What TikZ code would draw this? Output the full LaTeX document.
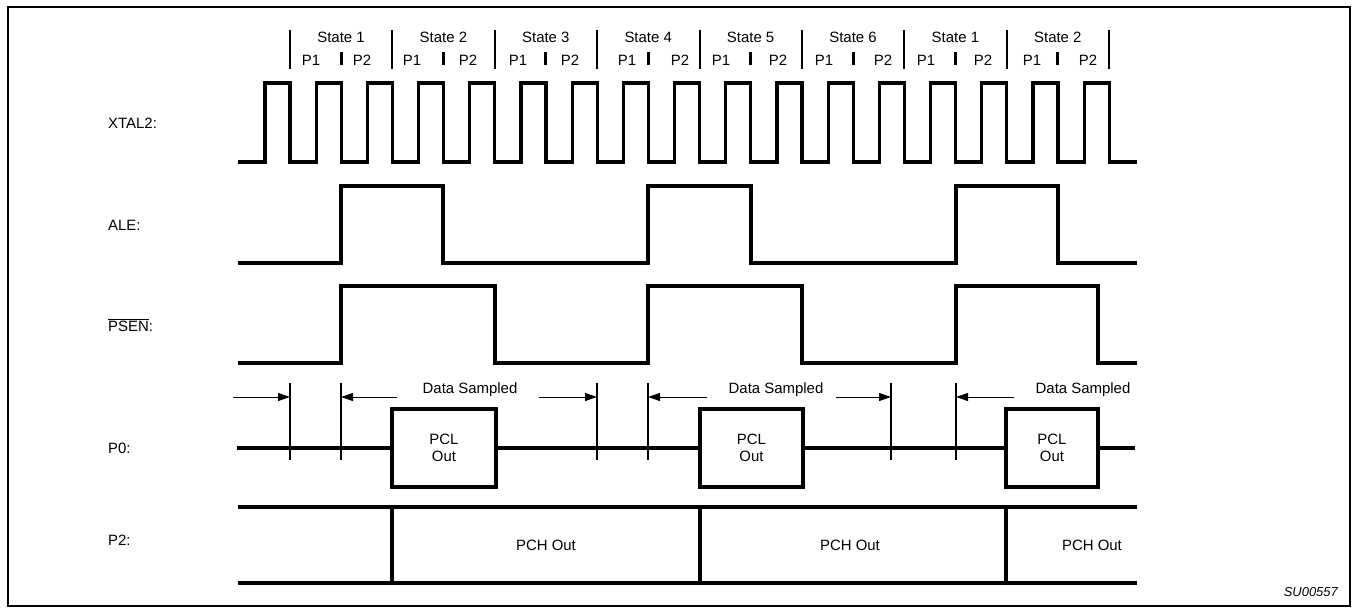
\documentclass[tikz,border=0pt]{standalone}
\usepackage{fontspec}
\setmainfont{Liberation Sans}
\usetikzlibrary{arrows.meta}
\begin{document}
\begin{tikzpicture}[x=1bp,y=-1bp,
  sig/.style={line width=3.2bp, line join=miter},
  tick/.style={line width=2bp},
  subtick/.style={line width=3bp},
  dimarrow/.style={line width=0.9bp, -{Triangle[length=12bp,width=8bp]}},
  lbl/.style={font=\fontsize{15}{17}\selectfont, inner sep=0pt},
  box/.style={draw, line width=3.2bp, minimum height=78bp, inner sep=0pt, outer sep=0pt, align=center, font=\fontsize{15}{17}\selectfont},
]
\useasboundingbox (0,0) rectangle (1354,608);
\draw[line width=1.5bp] (8,7) rectangle (1350,606);

% state header
\foreach \j in {0,...,8} \draw[tick] ({290+102.4*\j},30) -- ({290+102.4*\j},69);
\foreach \j in {0,...,7} \draw[subtick] ({341+102.4*\j},52) -- ({341+102.4*\j},65);
\foreach \n [count=\i from 0] in {1,2,3,4,5,6,1,2}
  \node[lbl] (st\i) at ({341+102.4*\i},37) {State \n};
\foreach \a/\b [count=\i from 0] in {311/362,412/468,518/570,627/680,721/778,824/883,926/983,1032/1088}
  {\node[lbl] (pa\i) at (\a,60) {P1}; \node[lbl] (pb\i) at (\b,60) {P2};}

% signal names
\node[lbl, anchor=west] (lxtal) at (108,123) {XTAL2:};
\node[lbl, anchor=west] (lale) at (108,225) {ALE:};
\node[lbl, anchor=west] (lpsen) at (108,325) {$\overline{\hbox{PSEN}}$:};
\node[lbl, anchor=west] (lp0) at (108,448) {P0:};
\node[lbl, anchor=west] (lp2) at (108,540) {P2:};

% XTAL2
\draw[sig] (238,162) \foreach \k in {0,...,16} { -- ({265+51.2*\k},162) -- ({265+51.2*\k},83) -- ({290+51.2*\k},83) -- ({290+51.2*\k},162) } -- (1137,162);

% ALE
\draw[sig] (238,263) -- (341,263) -- (341,186) -- (443,186) -- (443,263) -- (648,263) -- (648,186) -- (751,186) -- (751,263) -- (956,263) -- (956,186) -- (1058,186) -- (1058,263) -- (1137,263);

% PSEN
\draw[sig] (238,363) -- (341,363) -- (341,286) -- (495,286) -- (495,363) -- (648,363) -- (648,286) -- (802,286) -- (802,363) -- (956,363) -- (956,286) -- (1098,286) -- (1098,363) -- (1137,363);

% P0
\node[box, minimum width=104bp] (b1) at (444,448) {PCL\\Out};
\node[box, minimum width=103bp] (b2) at (751.5,448) {PCL\\Out};
\node[box, minimum width=92bp] (b3) at (1052,448) {PCL\\Out};
\coordinate (p0s) at (237,448);
\coordinate (p0e) at (1135,448);
\draw[sig] (p0s) -- (b1.west);
\draw[sig] (b1.east) -- (b2.west);
\draw[sig] (b2.east) -- (b3.west);
\draw[sig] (b3.east) -- (p0e);

\foreach \x in {290,341,597,648,891,956} \draw[tick] (\x,383) -- (\x,460);
\draw[dimarrow] (233,397) -- (290,397);
\draw[dimarrow] (397,397) -- (341,397);
\draw[dimarrow] (539,397) -- (597,397);
\draw[dimarrow] (707,397) -- (648,397);
\draw[dimarrow] (836,397) -- (891,397);
\draw[dimarrow] (1014,397) -- (956,397);
\node[lbl] (ds1) at (470,390) {Data Sampled};
\node[lbl] (ds2) at (776,390) {Data Sampled};
\node[lbl] (ds3) at (1083,390) {Data Sampled};

% P2
\draw[sig] (238,507) -- (1137,507);
\draw[sig] (238,583) -- (1137,583);
\foreach \x in {392,700,1006} \draw[sig] (\x,507) -- (\x,583);
\node[lbl] (pch1) at (546,545) {PCH Out};
\node[lbl] (pch2) at (850,545) {PCH Out};
\node[lbl] (pch3) at (1092,545) {PCH Out};

\node[font=\itshape\fontsize{13}{15}\selectfont, inner sep=0pt, anchor=east] (id) at (1338,592) {SU00557};
\end{tikzpicture}
\end{document}
